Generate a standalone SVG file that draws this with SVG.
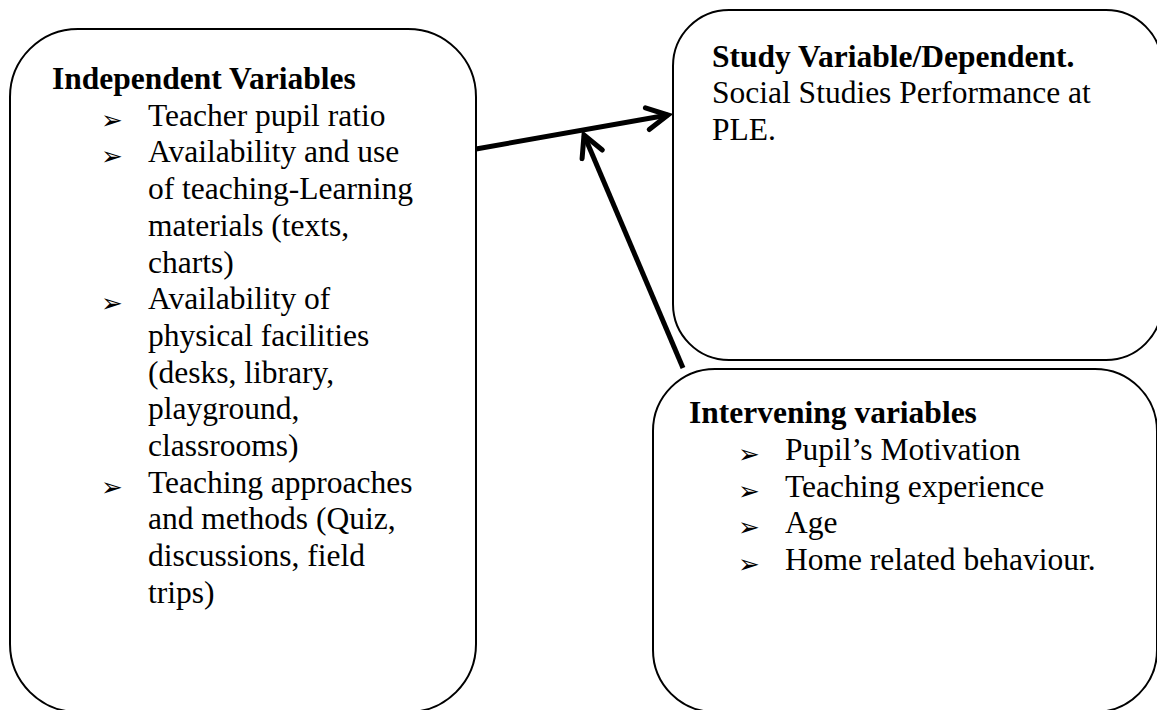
<svg xmlns="http://www.w3.org/2000/svg" width="1157" height="710" viewBox="0 0 1157 710">
<style>
.box{fill:#ffffff;stroke:#000000;stroke-width:2}
.t{font-family:"Liberation Serif","Times New Roman",serif;font-size:31.5px;fill:#000000}
.b{font-weight:bold}
.bul{font-family:"DejaVu Sans",sans-serif;font-size:26px;fill:#000000}
.conn{stroke:#000000;stroke-width:5;fill:none}
</style>
<defs>
<marker id="arr" markerUnits="userSpaceOnUse" markerWidth="40" markerHeight="40" viewBox="-30 -20 40 40" refX="0" refY="0" orient="auto">
<path d="M-21,-11 L0,0 L-21,11" fill="none" stroke="#000000" stroke-width="5" stroke-linecap="round" stroke-linejoin="miter"/>
</marker>
</defs>
<rect width="1157" height="710" fill="#ffffff"/>
<g id="independent">
<rect class="box" x="10" y="29" width="466" height="683" rx="68" ry="68"/>
<text class="t b" x="52" y="89">Independent Variables</text>
<text class="bul" x="101" y="128.5">➢</text>
<text class="t" x="148" y="125.7">Teacher pupil ratio</text>
<text class="bul" x="101" y="165.2">➢</text>
<text class="t" x="148" y="162.4">Availability and use</text>
<text class="t" x="148" y="199.1">of teaching-Learning</text>
<text class="t" x="148" y="235.8">materials (texts,</text>
<text class="t" x="148" y="272.5">charts)</text>
<text class="bul" x="101" y="312">➢</text>
<text class="t" x="148" y="309.2">Availability of</text>
<text class="t" x="148" y="345.9">physical facilities</text>
<text class="t" x="148" y="382.6">(desks, library,</text>
<text class="t" x="148" y="419.3">playground,</text>
<text class="t" x="148" y="456">classrooms)</text>
<text class="bul" x="101" y="495.5">➢</text>
<text class="t" x="148" y="492.7">Teaching approaches</text>
<text class="t" x="148" y="529.4">and methods (Quiz,</text>
<text class="t" x="148" y="566.1">discussions, field</text>
<text class="t" x="148" y="602.8">trips)</text>
</g>
<g id="dependent">
<rect class="box" x="673" y="10" width="489" height="350" rx="56" ry="56"/>
<text class="t b" x="712" y="67">Study Variable/Dependent.</text>
<text class="t" x="712" y="103">Social Studies Performance at</text>
<text class="t" x="712" y="139.5">PLE.</text>
</g>
<g id="intervening">
<rect class="box" x="653" y="369" width="504" height="343" rx="62" ry="62"/>
<text class="t b" x="689" y="423">Intervening variables</text>
<text class="bul" x="738" y="463">➢</text>
<text class="t" x="785" y="460">Pupil’s Motivation</text>
<text class="bul" x="738" y="500">➢</text>
<text class="t" x="785" y="497">Teaching experience</text>
<text class="bul" x="738" y="536">➢</text>
<text class="t" x="785" y="533">Age</text>
<text class="bul" x="738" y="573">➢</text>
<text class="t" x="785" y="570">Home related behaviour.</text>
</g>
<g id="connectors">
<line class="conn" x1="476" y1="149" x2="668" y2="115" marker-end="url(#arr)"/>
<line class="conn" x1="683" y1="368" x2="584" y2="135" marker-end="url(#arr)"/>
</g>
</svg>
